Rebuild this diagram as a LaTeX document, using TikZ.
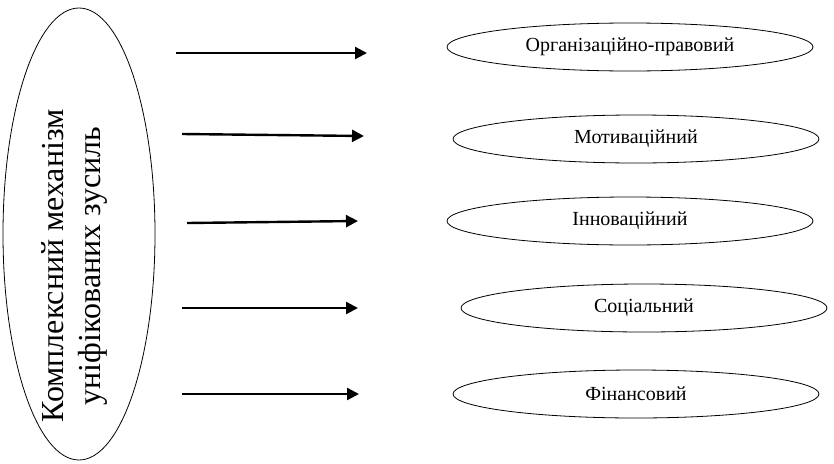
\documentclass[tikz,border=0pt]{standalone}
\usepackage{fontspec}
\setmainfont{Liberation Serif}
\usetikzlibrary{shapes.geometric, arrows.meta}

\begin{document}
\begin{tikzpicture}[x=1pt, y=-1pt,
		kind/.style={ellipse, draw, line width=0.8pt, inner sep=0pt, minimum height=48pt, minimum width=366pt, font=\fontsize{20}{24}\selectfont},
		flow/.style={line width=2.4pt, -{Triangle[length=12pt, width=12pt]}}]
	\useasboundingbox (0,0) rectangle (834,463);

	\newcommand{\drawKind}[4]
	{
		\node [kind] (#1) at (#2,#3) {#4}
	}

	\newcommand{\drawFlow}[5]
	{
		\coordinate (#1from) at (#2,#3);
		\coordinate (#1to) at (#4,#5);
		\draw [flow] (#1from) -- (#1to)
	}

	% mechanism
	\node [ellipse, draw, line width=0.8pt, minimum width=152pt, minimum height=452pt, inner sep=0pt] (mech) at (79,234) {};
	\node [rotate=90, align=center, font=\fontsize{32}{37}\selectfont] (mechText) at (74,266) {Комплексний механізм\\уніфікованих зусиль};

	% kinds
	\drawKind{org}{630}{47}{Організаційно-правовий};
	\drawKind{mot}{636}{139}{Мотиваційний};
	\drawKind{inn}{630}{221}{Інноваційний};
	\drawKind{soc}{644}{308}{Соціальний};
	\drawKind{fin}{636}{394}{Фінансовий};

	% arrows
	\drawFlow{a}{176}{53}{367}{53};
	\drawFlow{b}{182}{134}{364}{136};
	\drawFlow{c}{187}{223}{358}{221};
	\drawFlow{d}{182}{308}{358}{308};
	\drawFlow{e}{182}{394}{359}{394};
\end{tikzpicture}
\end{document}
